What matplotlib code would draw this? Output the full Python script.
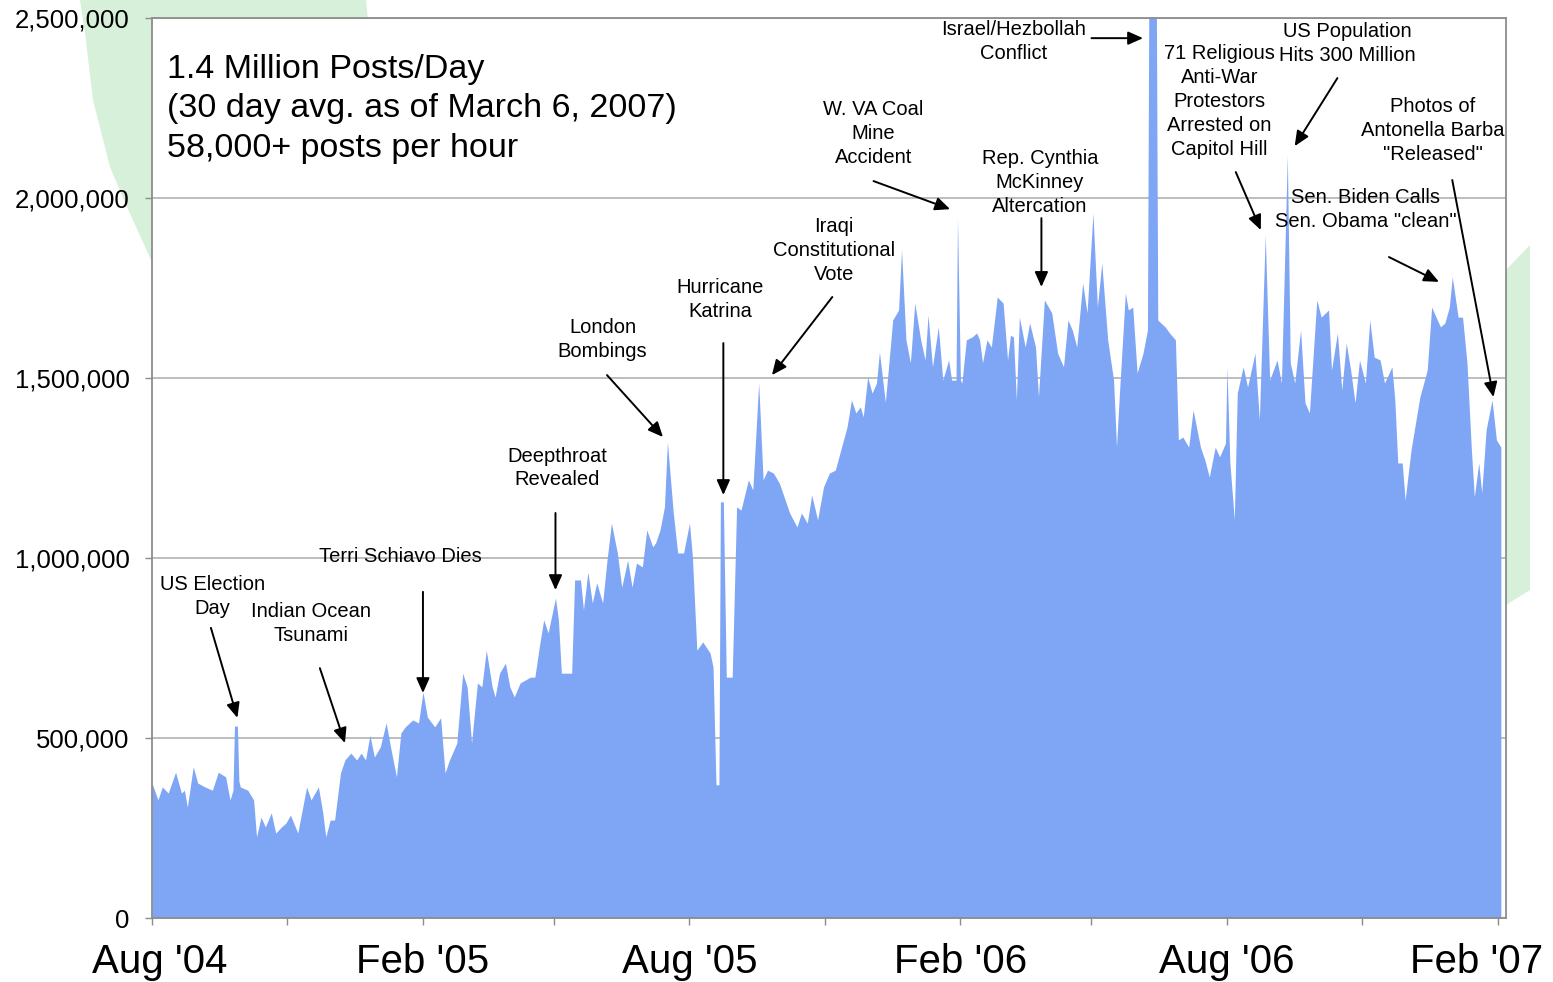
import numpy as np
import pandas as pd
import matplotlib
matplotlib.use('Agg')
import matplotlib.pyplot as plt
import matplotlib.ticker as plt_ticker
from matplotlib.patches import Polygon
from matplotlib.transforms import ScaledTranslation

plt.rcParams['font.family'] = ['Liberation Sans', 'DejaVu Sans']

start_date = pd.Timestamp('2004-08-01')

# days since 1 Aug 2004 and posts per day (thousands)
days = [0, 4, 7, 11, 16, 20, 22, 24, 28, 31, 36, 41, 45, 50, 53, 55, 56, 58, 59, 60,
        65, 69, 71, 74, 77, 81, 84, 88, 91, 94, 99, 105, 108, 113, 116, 118, 121, 124, 128, 131,
        135, 139, 142, 145, 148, 151, 155, 159, 162, 166, 169, 172, 177, 181, 184, 187, 192, 196, 199, 202,
        207, 211, 214, 217, 221, 224, 227, 231, 233, 236, 240, 243, 246, 250, 257, 260, 263, 266, 269, 274,
        276, 278, 285, 287, 291, 293, 296, 299, 302, 306, 309, 312, 316, 319, 323, 326, 329, 333, 336, 340,
        342, 345, 348, 350, 354, 357, 361, 365, 367, 370, 374, 379, 381, 383, 385, 386, 388, 390, 394, 397,
        400, 405, 408, 412, 415, 418, 422, 426, 430, 433, 438, 441, 445, 448, 452, 456, 460, 464, 469, 472,
        475, 478, 481, 483, 486, 489, 492, 494, 498, 500, 503, 507, 509, 512, 515, 518, 522, 525, 527, 530,
        534, 537, 541, 543, 546, 547, 549, 550, 553, 557, 560, 562, 564, 567, 570, 574, 578, 581, 583, 585,
        587, 589, 593, 596, 600, 602, 606, 611, 615, 619, 622, 625, 628, 632, 635, 639, 642, 645, 649, 653,
        655, 657, 661, 663, 666, 669, 673, 676, 677, 682, 683, 688, 691, 695, 697, 700, 704, 707, 712, 715,
        718, 722, 725, 729, 730, 732, 735, 737, 741, 744, 749, 752, 756, 759, 764, 767, 771, 773, 776, 780,
        783, 786, 791, 794, 799, 801, 805, 808, 811, 814, 817, 820, 824, 827, 830, 834, 837, 842, 844, 846,
        849, 851, 855, 861, 866, 869, 872, 875, 878, 881, 883, 887, 890, 893, 896, 898, 901, 903, 906, 910,
        913, 916]
posts_k = [375, 328, 364, 347, 405, 347, 355, 308, 420, 375, 364, 355, 405, 392, 328, 355, 533, 533, 380, 364,
           355, 328, 225, 280, 253, 292, 236, 253, 264, 286, 236, 364, 328, 364, 292, 225, 272, 272, 403, 439,
           458, 439, 458, 439, 508, 447, 475, 542, 475, 392, 514, 531, 550, 542, 628, 558, 531, 556, 403, 439,
           486, 680, 642, 486, 653, 642, 744, 642, 614, 680, 708, 642, 614, 653, 669, 669, 753, 828, 792, 889,
           828, 680, 680, 939, 939, 856, 961, 875, 931, 875, 994, 1097, 1014, 919, 994, 919, 986, 975, 1078, 1031,
           1042, 1078, 1142, 1322, 1125, 1014, 1014, 1097, 1003, 744, 767, 736, 697, 370, 370, 1156, 1156, 669, 669, 1142,
           1133, 1217, 1189, 1486, 1217, 1244, 1236, 1208, 1161, 1125, 1086, 1125, 1097, 1175, 1106, 1197, 1236, 1244, 1319, 1364,
           1439, 1403, 1420, 1392, 1503, 1458, 1486, 1572, 1433, 1522, 1661, 1689, 1856, 1606, 1542, 1708, 1606, 1550, 1675, 1531,
           1642, 1494, 1550, 1494, 1494, 1944, 1494, 1486, 1606, 1614, 1625, 1606, 1542, 1606, 1586, 1725, 1708, 1550, 1619, 1614,
           1439, 1669, 1586, 1653, 1586, 1447, 1717, 1681, 1569, 1531, 1661, 1633, 1586, 1764, 1681, 1958, 1697, 1819, 1606, 1494,
           1308, 1458, 1736, 1689, 1697, 1514, 1569, 1633, 2600, 2600, 1661, 1642, 1625, 1606, 1328, 1336, 1308, 1411, 1308, 1272,
           1225, 1308, 1281, 1319, 1531, 1264, 1106, 1458, 1531, 1475, 1569, 1383, 1897, 1494, 1550, 1486, 2119, 1542, 1486, 1633,
           1431, 1403, 1717, 1669, 1689, 1522, 1625, 1467, 1597, 1522, 1431, 1550, 1486, 1661, 1558, 1550, 1486, 1531, 1439, 1264,
           1264, 1161, 1300, 1447, 1522, 1697, 1669, 1642, 1653, 1697, 1781, 1669, 1669, 1542, 1300, 1170, 1264, 1181, 1356, 1439,
           1328, 1308]

tick_dates = ['2004-08-01', '2004-11-01', '2005-02-01', '2005-05-01', '2005-08-01', '2005-11-01',
              '2006-02-01', '2006-05-01', '2006-08-01', '2006-11-01', '2007-02-01']
tick_labels = ["Aug '04", '', "Feb '05", '', "Aug '05", '', "Feb '06", '', "Aug '06", '', "Feb '07"]
y_ticks = [0, 500000, 1000000, 1500000, 2000000, 2500000]

headline = '1.4 Million Posts/Day\n(30 day avg. as of March 6, 2007)\n58,000+ posts per hour'

# label, text centre, arrow start, arrow tip  (day, thousands)
events = [
    ('US Election\nDay', (41, 892), (40, 806), (58, 556)),
    ('Indian Ocean\nTsunami', (108, 819), (114, 694), (131, 486)),
    ('Terri Schiavo Dies', (169, 1003), (184, 906), (184, 625)),
    ('Deepthroat\nRevealed', (275, 1250), (274, 1125), (274, 911)),
    ('London\nBombings', (306, 1606), (309, 1508), (347, 1336)),
    ('Hurricane\nKatrina', (386, 1719), (388, 1597), (388, 1175)),
    ('Iraqi\nConstitutional\nVote', (463, 1853), (462, 1725), (421, 1508)),
    ('W. VA Coal\nMine\nAccident', (490, 2178), (490, 2047), (542, 1969)),
    ('Rep. Cynthia\nMcKinney\nAltercation', (603, 2044), (604, 1944), (604, 1753)),
    ('Israel/Hezbollah\nConflict', (585, 2435), (638, 2444), (673, 2444)),
    ('71 Religious\nAnti-War\nProtestors\nArrested on\nCapitol Hill', (725, 2267), (736, 2072), (753, 1911)),
    ('US Population\nHits 300 Million', (812, 2429), (805, 2333), (776, 2144)),
    ('Photos of\nAntonella Barba\n"Released"', (870, 2187), (883, 2050), (911, 1447)),
    ('Sen. Biden Calls\nSen. Obama "clean"', (824, 1969), (840, 1836), (874, 1767)),
]

W, H = 1553, 982
fig = plt.figure(figsize=(W / 100, H / 100), dpi=100)
fig.patch.set_facecolor('white')


def fig_pts(pts):
    # pixel (from top-left) -> figure fraction
    return [(px / W, 1 - py / H) for px, py in pts]


# pale green decoration behind the plot
green = '#d7f0d9'
fig.add_artist(Polygon(fig_pts([(80, 0), (366, 0), (370, 40), (152, 262), (127, 207),
                                (110, 167), (93, 100), (85, 33)]),
                       closed=True, transform=fig.transFigure, color=green, lw=0, zorder=-5))
fig.add_artist(Polygon(fig_pts([(1506, 270), (1530, 245), (1530, 590), (1506, 605)]),
                       closed=True, transform=fig.transFigure, color=green, lw=0, zorder=-5))

ax = fig.add_axes([152 / W, 64 / H, 1354 / W, 900 / H])
ax.set_facecolor('white')

x = np.array(days)
y = np.array(posts_k) * 1000
ax.fill_between(x, y, 0, color='#7fa5f5', lw=0, zorder=2)

ax.set_xlim(0, 919.5)
ax.set_ylim(0, 2500000)

tick_days = [(pd.Timestamp(d) - start_date).days for d in tick_dates]
ax.set_xticks(tick_days)
ax.set_xticklabels(tick_labels)
ax.set_yticks(y_ticks)
ax.yaxis.set_major_formatter(plt_ticker.FuncFormatter(lambda v, p: f'{int(v):,}'))

ax.yaxis.grid(True, color='#b8b8b8', lw=1.3)
ax.set_axisbelow(True)
for s in ax.spines.values():
    s.set_color('#8c8c8c')
    s.set_linewidth(1.3)

ax.tick_params(axis='y', length=5, width=1, color='#8c8c8c', labelsize=18.5, pad=11)
ax.tick_params(axis='x', length=5, width=1, color='#8c8c8c', labelsize=29, pad=13)

xl = ax.get_xticklabels()
xl[0].set_transform(xl[0].get_transform() + ScaledTranslation(8 / 100, 0, fig.dpi_scale_trans))
xl[-1].set_transform(xl[-1].get_transform() + ScaledTranslation(-21 / 100, 0, fig.dpi_scale_trans))

ax.text(0.011, 0.899, headline, transform=ax.transAxes, fontsize=24.5,
        ha='left', va='center', linespacing=1.34, zorder=6)

for label, (tx, ty), (sx, sy), (ex, ey) in events:
    ax.text(tx, ty * 1000, label, ha='center', va='center', fontsize=14.5,
            linespacing=1.33, multialignment='center', zorder=6)
    ax.annotate('', xy=(ex, ey * 1000), xytext=(sx, sy * 1000),
                arrowprops=dict(arrowstyle='-|>,head_length=0.9,head_width=0.4',
                                color='black', lw=1.4, shrinkA=0, shrinkB=0), zorder=6)

fig.savefig('out.png', dpi=100, facecolor='white')
